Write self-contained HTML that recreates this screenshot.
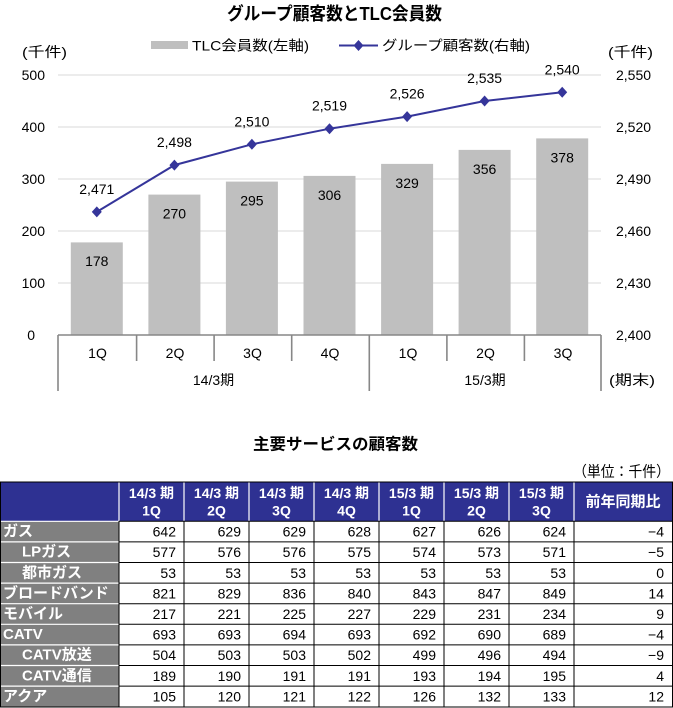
<!DOCTYPE html>
<html><head><meta charset="utf-8"><style>
html,body{margin:0;padding:0;background:#fff;}
svg{display:block;}
text{font-family:"Liberation Sans","Noto Sans CJK JP",sans-serif;}
</style></head><body>
<svg width="673" height="708" viewBox="0 0 673 708" xmlns="http://www.w3.org/2000/svg">
<!-- Title -->
<text x="334.5" y="14" font-size="18" font-weight="bold" text-anchor="middle" dominant-baseline="central" textLength="215" lengthAdjust="spacingAndGlyphs" fill="#000">グループ顧客数とTLC会員数</text>
<!-- Legend -->
<rect x="151" y="41" width="37" height="8" fill="#BFBFBF"/>
<text x="192" y="45.5" font-size="14" dominant-baseline="central" textLength="117" lengthAdjust="spacingAndGlyphs" fill="#000">TLC会員数(左軸)</text>
<line x1="339" y1="45.5" x2="378" y2="45.5" stroke="#35359A" stroke-width="2"/>
<polygon points="358.5,40 363.5,45.5 358.5,51 353.5,45.5" fill="#35359A"/>
<text x="382" y="45.5" font-size="14" dominant-baseline="central" textLength="148" lengthAdjust="spacingAndGlyphs" fill="#000">グループ顧客数(右軸)</text>
<!-- unit labels -->
<text x="22" y="52" font-size="14" dominant-baseline="central" textLength="45" lengthAdjust="spacingAndGlyphs">(千件)</text>
<text x="608" y="52" font-size="14" dominant-baseline="central" textLength="45" lengthAdjust="spacingAndGlyphs">(千件)</text>
<!-- gridlines -->
<g stroke="#D9D9D9" stroke-width="1">
<line x1="58" y1="75" x2="601" y2="75"/>
<line x1="58" y1="127" x2="601" y2="127"/>
<line x1="58" y1="179" x2="601" y2="179"/>
<line x1="58" y1="231" x2="601" y2="231"/>
<line x1="58" y1="283" x2="601" y2="283"/>
</g>
<!-- left ticks -->
<g font-size="14" text-anchor="end" fill="#000">
<text x="45" y="75" dominant-baseline="central">500</text>
<text x="45" y="127" dominant-baseline="central">400</text>
<text x="45" y="179" dominant-baseline="central">300</text>
<text x="45" y="231" dominant-baseline="central">200</text>
<text x="45" y="283" dominant-baseline="central">100</text>
<text x="35" y="335" dominant-baseline="central">0</text>
</g>
<!-- right ticks -->
<g font-size="14" fill="#000">
<text x="616" y="75" dominant-baseline="central">2,550</text>
<text x="616" y="127" dominant-baseline="central">2,520</text>
<text x="616" y="179" dominant-baseline="central">2,490</text>
<text x="616" y="231" dominant-baseline="central">2,460</text>
<text x="616" y="283" dominant-baseline="central">2,430</text>
<text x="616" y="335" dominant-baseline="central">2,400</text>
</g>
<!-- bars -->
<g fill="#BFBFBF">
<rect x="70.8" y="242.4" width="52" height="92.6"/>
<rect x="148.4" y="194.6" width="52" height="140.4"/>
<rect x="225.9" y="181.6" width="52" height="153.4"/>
<rect x="303.5" y="175.9" width="52" height="159.1"/>
<rect x="381.1" y="163.9" width="52" height="171.1"/>
<rect x="458.6" y="149.9" width="52" height="185.1"/>
<rect x="536.2" y="138.4" width="52" height="196.6"/>
</g>
<g font-size="14" text-anchor="middle" fill="#000">
<text x="96.8" y="261" dominant-baseline="central">178</text>
<text x="174.4" y="213.5" dominant-baseline="central">270</text>
<text x="251.9" y="200.5" dominant-baseline="central">295</text>
<text x="329.5" y="195" dominant-baseline="central">306</text>
<text x="407.1" y="183" dominant-baseline="central">329</text>
<text x="484.6" y="169" dominant-baseline="central">356</text>
<text x="562.2" y="157.5" dominant-baseline="central">378</text>
</g>
<!-- axis -->
<g stroke="#878787" stroke-width="1.6" fill="none">
<line x1="58" y1="335" x2="601" y2="335"/>
<line x1="58" y1="335" x2="58" y2="391"/>
<line x1="136.6" y1="335" x2="136.6" y2="361"/>
<line x1="214.1" y1="335" x2="214.1" y2="361"/>
<line x1="291.7" y1="335" x2="291.7" y2="361"/>
<line x1="369.3" y1="335" x2="369.3" y2="391"/>
<line x1="446.9" y1="335" x2="446.9" y2="361"/>
<line x1="524.4" y1="335" x2="524.4" y2="361"/>
<line x1="601" y1="335" x2="601" y2="391"/>
</g>
<g font-size="14" text-anchor="middle" fill="#000">
<text x="97.5" y="353" dominant-baseline="central">1Q</text>
<text x="175" y="353" dominant-baseline="central">2Q</text>
<text x="252.5" y="353" dominant-baseline="central">3Q</text>
<text x="330" y="353" dominant-baseline="central">4Q</text>
<text x="408" y="353" dominant-baseline="central">1Q</text>
<text x="485.5" y="353" dominant-baseline="central">2Q</text>
<text x="563" y="353" dominant-baseline="central">3Q</text>
<text x="213.5" y="380" dominant-baseline="central">14/3期</text>
<text x="485" y="380" dominant-baseline="central">15/3期</text>
</g>
<text x="609" y="380" font-size="14" dominant-baseline="central" textLength="46" lengthAdjust="spacingAndGlyphs">(期末)</text>
<!-- line series -->
<polyline points="96.8,211.9 174.4,165.1 251.9,144.3 329.5,128.7 407.1,116.6 484.6,101 562.2,92.3" fill="none" stroke="#35359A" stroke-width="2"/>
<g fill="#35359A">
<polygon points="96.8,206.4 101.8,211.9 96.8,217.4 91.8,211.9"/>
<polygon points="174.4,159.6 179.4,165.1 174.4,170.6 169.4,165.1"/>
<polygon points="251.9,138.8 256.9,144.3 251.9,149.8 246.9,144.3"/>
<polygon points="329.5,123.2 334.5,128.7 329.5,134.2 324.5,128.7"/>
<polygon points="407.1,111.1 412.1,116.6 407.1,122.1 402.1,116.6"/>
<polygon points="484.6,95.5 489.6,101 484.6,106.5 479.6,101"/>
<polygon points="562.2,86.8 567.2,92.3 562.2,97.8 557.2,92.3"/>
</g>
<g font-size="14" text-anchor="middle" fill="#000">
<text x="96.8" y="189" dominant-baseline="central">2,471</text>
<text x="174.4" y="142" dominant-baseline="central">2,498</text>
<text x="251.9" y="121.3" dominant-baseline="central">2,510</text>
<text x="329.5" y="105.7" dominant-baseline="central">2,519</text>
<text x="407.1" y="93.6" dominant-baseline="central">2,526</text>
<text x="484.6" y="78" dominant-baseline="central">2,535</text>
<text x="562.2" y="69.3" dominant-baseline="central">2,540</text>
</g>

<!-- Table section -->
<text x="335.5" y="445" font-size="16" font-weight="bold" text-anchor="middle" dominant-baseline="central" textLength="165" lengthAdjust="spacingAndGlyphs">主要サービスの顧客数</text>
<text x="573" y="472" font-size="15" dominant-baseline="central" textLength="97" lengthAdjust="spacingAndGlyphs">（単位：千件）</text>

<!-- header background -->
<rect x="0.5" y="482" width="672" height="39" fill="#2E3192"/>
<!-- first column grey -->
<rect x="0.5" y="521" width="118.5" height="186" fill="#808080"/>
<!-- white separators in header -->
<g stroke="#FFFFFF" stroke-width="1.2">
<line x1="119" y1="482.5" x2="119" y2="521"/>
<line x1="184" y1="482.5" x2="184" y2="521"/>
<line x1="249" y1="482.5" x2="249" y2="521"/>
<line x1="314" y1="482.5" x2="314" y2="521"/>
<line x1="379" y1="482.5" x2="379" y2="521"/>
<line x1="444" y1="482.5" x2="444" y2="521"/>
<line x1="509" y1="482.5" x2="509" y2="521"/>
<line x1="574" y1="482.5" x2="574" y2="521"/>
<line x1="0.5" y1="521.3" x2="119" y2="521.3"/>
<line x1="0.5" y1="541.9" x2="119" y2="541.9"/>
<line x1="0.5" y1="562.5" x2="119" y2="562.5"/>
<line x1="0.5" y1="583.1" x2="119" y2="583.1"/>
<line x1="0.5" y1="603.7" x2="119" y2="603.7"/>
<line x1="0.5" y1="624.3" x2="119" y2="624.3"/>
<line x1="0.5" y1="644.9" x2="119" y2="644.9"/>
<line x1="0.5" y1="665.5" x2="119" y2="665.5"/>
<line x1="0.5" y1="686.1" x2="119" y2="686.1"/>
</g>
<!-- black grid for data -->
<g stroke="#000" stroke-width="1">
<line x1="119" y1="521.3" x2="672.5" y2="521.3"/>
<line x1="119" y1="541.9" x2="672.5" y2="541.9"/>
<line x1="119" y1="562.5" x2="672.5" y2="562.5"/>
<line x1="119" y1="583.1" x2="672.5" y2="583.1"/>
<line x1="119" y1="603.7" x2="672.5" y2="603.7"/>
<line x1="119" y1="624.3" x2="672.5" y2="624.3"/>
<line x1="119" y1="644.9" x2="672.5" y2="644.9"/>
<line x1="119" y1="665.5" x2="672.5" y2="665.5"/>
<line x1="119" y1="686.1" x2="672.5" y2="686.1"/>
<line x1="119" y1="521" x2="119" y2="707"/>
<line x1="184" y1="521" x2="184" y2="707"/>
<line x1="249" y1="521" x2="249" y2="707"/>
<line x1="314" y1="521" x2="314" y2="707"/>
<line x1="379" y1="521" x2="379" y2="707"/>
<line x1="444" y1="521" x2="444" y2="707"/>
<line x1="509" y1="521" x2="509" y2="707"/>
<line x1="574" y1="521" x2="574" y2="707"/>
</g>
<rect x="0.5" y="482" width="672" height="225" fill="none" stroke="#000" stroke-width="1"/>

<!-- header text -->
<g font-size="14" font-weight="bold" fill="#FFFFFF" text-anchor="middle">
<text x="151.5" y="493" dominant-baseline="central">14/3 期</text><text x="151.5" y="510.5" dominant-baseline="central">1Q</text>
<text x="216.5" y="493" dominant-baseline="central">14/3 期</text><text x="216.5" y="510.5" dominant-baseline="central">2Q</text>
<text x="281.5" y="493" dominant-baseline="central">14/3 期</text><text x="281.5" y="510.5" dominant-baseline="central">3Q</text>
<text x="346.5" y="493" dominant-baseline="central">14/3 期</text><text x="346.5" y="510.5" dominant-baseline="central">4Q</text>
<text x="411.5" y="493" dominant-baseline="central">15/3 期</text><text x="411.5" y="510.5" dominant-baseline="central">1Q</text>
<text x="476.5" y="493" dominant-baseline="central">15/3 期</text><text x="476.5" y="510.5" dominant-baseline="central">2Q</text>
<text x="541.5" y="493" dominant-baseline="central">15/3 期</text><text x="541.5" y="510.5" dominant-baseline="central">3Q</text>
<text x="623" y="502" font-size="15" dominant-baseline="central">前年同期比</text>
</g>

<!-- first column labels -->
<g font-size="15" font-weight="bold" fill="#FFFFFF">
<text x="3" y="531.6" dominant-baseline="central">ガス</text>
<text x="22" y="552.2" dominant-baseline="central">LPガス</text>
<text x="22" y="572.8" dominant-baseline="central">都市ガス</text>
<text x="3" y="593.4" dominant-baseline="central">ブロードバンド</text>
<text x="3" y="614" dominant-baseline="central">モバイル</text>
<text x="3" y="634.6" dominant-baseline="central">CATV</text>
<text x="22" y="655.2" dominant-baseline="central">CATV放送</text>
<text x="22" y="675.8" dominant-baseline="central">CATV通信</text>
<text x="3" y="696.4" dominant-baseline="central">アクア</text>
</g>

<!-- data -->
<g font-size="14" fill="#000" text-anchor="end">
<text x="176" y="531.6" dominant-baseline="central">642</text><text x="241" y="531.6" dominant-baseline="central">629</text><text x="306" y="531.6" dominant-baseline="central">629</text><text x="371" y="531.6" dominant-baseline="central">628</text><text x="436" y="531.6" dominant-baseline="central">627</text><text x="501" y="531.6" dominant-baseline="central">626</text><text x="566" y="531.6" dominant-baseline="central">624</text><text x="664" y="531.6" dominant-baseline="central">−4</text>
<text x="176" y="552.2" dominant-baseline="central">577</text><text x="241" y="552.2" dominant-baseline="central">576</text><text x="306" y="552.2" dominant-baseline="central">576</text><text x="371" y="552.2" dominant-baseline="central">575</text><text x="436" y="552.2" dominant-baseline="central">574</text><text x="501" y="552.2" dominant-baseline="central">573</text><text x="566" y="552.2" dominant-baseline="central">571</text><text x="664" y="552.2" dominant-baseline="central">−5</text>
<text x="176" y="572.8" dominant-baseline="central">53</text><text x="241" y="572.8" dominant-baseline="central">53</text><text x="306" y="572.8" dominant-baseline="central">53</text><text x="371" y="572.8" dominant-baseline="central">53</text><text x="436" y="572.8" dominant-baseline="central">53</text><text x="501" y="572.8" dominant-baseline="central">53</text><text x="566" y="572.8" dominant-baseline="central">53</text><text x="664" y="572.8" dominant-baseline="central">0</text>
<text x="176" y="593.4" dominant-baseline="central">821</text><text x="241" y="593.4" dominant-baseline="central">829</text><text x="306" y="593.4" dominant-baseline="central">836</text><text x="371" y="593.4" dominant-baseline="central">840</text><text x="436" y="593.4" dominant-baseline="central">843</text><text x="501" y="593.4" dominant-baseline="central">847</text><text x="566" y="593.4" dominant-baseline="central">849</text><text x="664" y="593.4" dominant-baseline="central">14</text>
<text x="176" y="614" dominant-baseline="central">217</text><text x="241" y="614" dominant-baseline="central">221</text><text x="306" y="614" dominant-baseline="central">225</text><text x="371" y="614" dominant-baseline="central">227</text><text x="436" y="614" dominant-baseline="central">229</text><text x="501" y="614" dominant-baseline="central">231</text><text x="566" y="614" dominant-baseline="central">234</text><text x="664" y="614" dominant-baseline="central">9</text>
<text x="176" y="634.6" dominant-baseline="central">693</text><text x="241" y="634.6" dominant-baseline="central">693</text><text x="306" y="634.6" dominant-baseline="central">694</text><text x="371" y="634.6" dominant-baseline="central">693</text><text x="436" y="634.6" dominant-baseline="central">692</text><text x="501" y="634.6" dominant-baseline="central">690</text><text x="566" y="634.6" dominant-baseline="central">689</text><text x="664" y="634.6" dominant-baseline="central">−4</text>
<text x="176" y="655.2" dominant-baseline="central">504</text><text x="241" y="655.2" dominant-baseline="central">503</text><text x="306" y="655.2" dominant-baseline="central">503</text><text x="371" y="655.2" dominant-baseline="central">502</text><text x="436" y="655.2" dominant-baseline="central">499</text><text x="501" y="655.2" dominant-baseline="central">496</text><text x="566" y="655.2" dominant-baseline="central">494</text><text x="664" y="655.2" dominant-baseline="central">−9</text>
<text x="176" y="675.8" dominant-baseline="central">189</text><text x="241" y="675.8" dominant-baseline="central">190</text><text x="306" y="675.8" dominant-baseline="central">191</text><text x="371" y="675.8" dominant-baseline="central">191</text><text x="436" y="675.8" dominant-baseline="central">193</text><text x="501" y="675.8" dominant-baseline="central">194</text><text x="566" y="675.8" dominant-baseline="central">195</text><text x="664" y="675.8" dominant-baseline="central">4</text>
<text x="176" y="696.4" dominant-baseline="central">105</text><text x="241" y="696.4" dominant-baseline="central">120</text><text x="306" y="696.4" dominant-baseline="central">121</text><text x="371" y="696.4" dominant-baseline="central">122</text><text x="436" y="696.4" dominant-baseline="central">126</text><text x="501" y="696.4" dominant-baseline="central">132</text><text x="566" y="696.4" dominant-baseline="central">133</text><text x="664" y="696.4" dominant-baseline="central">12</text>
</g>
</svg>
</body></html>
